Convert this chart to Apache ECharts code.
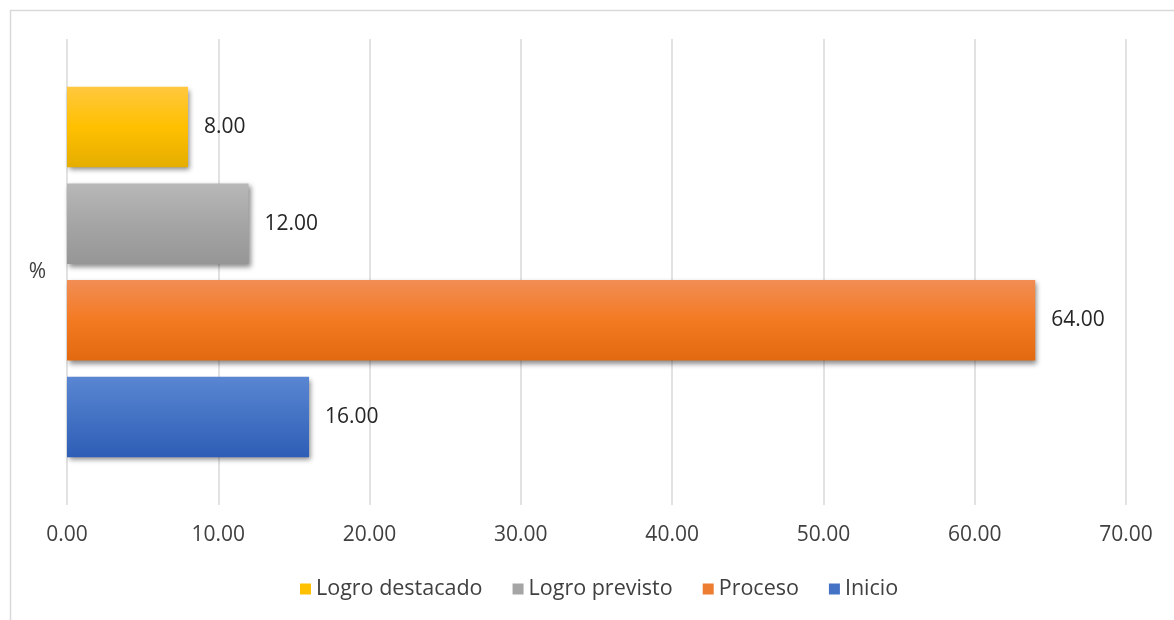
<!DOCTYPE html>
<html>
<head>
<meta charset="utf-8">
<script src="https://cdn.jsdelivr.net/npm/echarts@6/dist/echarts.min.js"></script>
<style>html,body{margin:0;padding:0;background:#fff}#c{width:1174px;height:620px}</style>
</head>
<body>
<div id="c"></div>
<script>
var categories = ['%'];
var seriesNames = ['Logro destacado', 'Logro previsto', 'Proceso', 'Inicio'];
var logroDestacado = [8.00];
var logroPrevisto = [12.00];
var proceso = [64.00];
var inicio = [16.00];
var xTicks = {min: 0, max: 70, interval: 10};

var FONT = '"Open Sans", "Noto Sans", sans-serif';
function grad(a, b, c) {
  return new echarts.graphic.LinearGradient(0, 0, 0, 1, [
    {offset: 0, color: a}, {offset: 0.5, color: b}, {offset: 1, color: c}
  ]);
}
var colors = [
  grad('#ffc83f', '#ffc000', '#e4ad00'),
  grad('#b8b8b8', '#a5a5a5', '#969696'),
  grad('#f18d55', '#f47a22', '#e2690f'),
  grad('#5a86d2', '#4472c4', '#2d5db6')
];
var legendColors = ['#ffc000', '#a5a5a5', '#ed7d31', '#4472c4'];
var dataSets = [logroDestacado, logroPrevisto, proceso, inicio];

var chart = echarts.init(document.getElementById('c'), null, {renderer: 'canvas'});
chart.setOption({
  animation: false,
  backgroundColor: '#fff',
  graphic: [{
    type: 'rect', silent: true,
    shape: {x: 10.5, y: 10.5, width: 1300, height: 800},
    style: {fill: 'none', stroke: '#d9d9d9', lineWidth: 1.5}
  }],
  grid: {left: 67, right: 48, top: 39, bottom: 115, containLabel: false},
  legend: {
    data: seriesNames.map(function (n, i) {
      return {name: n, itemStyle: {color: legendColors[i]}};
    }),
    bottom: 15, left: 295,
    icon: 'rect', itemWidth: 11, itemHeight: 11, itemGap: 30,
    textStyle: {fontFamily: FONT, fontSize: 21.5, color: '#404040'}
  },
  xAxis: {
    type: 'value', min: xTicks.min, max: xTicks.max, interval: xTicks.interval,
    axisLine: {show: false}, axisTick: {show: false},
    splitLine: {lineStyle: {color: '#d9d9d9', width: 1.5}},
    axisLabel: {
      fontFamily: FONT, fontSize: 21, color: '#404040', margin: 20,
      formatter: function (v) { return v.toFixed(2); }
    }
  },
  yAxis: {
    type: 'category', data: categories,
    axisLine: {show: false}, axisTick: {show: false},
    axisLabel: {fontFamily: FONT, fontSize: 21, color: '#404040', margin: 21}
  },
  series: seriesNames.map(function (n, i) {
    return {
      name: n, type: 'bar', data: dataSets[i],
      barGap: '20%', barCategoryGap: '20.5%',
      itemStyle: {
        color: colors[i],
        shadowColor: 'rgba(0,0,0,0.45)', shadowBlur: 5, shadowOffsetX: 2, shadowOffsetY: 3
      },
      label: {
        show: true, position: 'right', distance: 16,
        fontFamily: FONT, fontSize: 21, color: '#262626',
        formatter: function (p) { return p.value.toFixed(2); }
      }
    };
  })
});
</script>
</body>
</html>
